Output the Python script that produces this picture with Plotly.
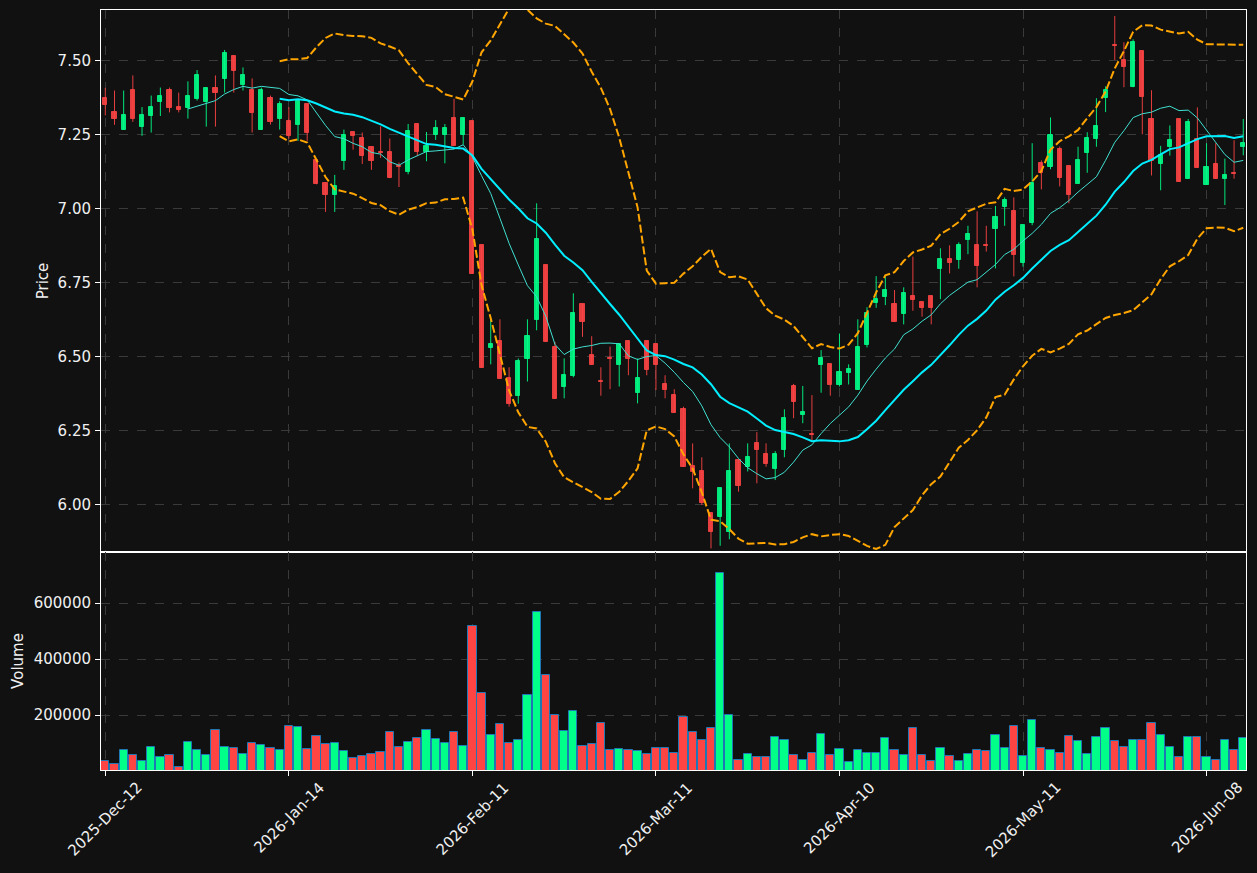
import plotly.graph_objects as go
import pandas as pd

opens = [7.372, 7.325, 7.265, 7.399, 7.275, 7.312, 7.360, 7.399, 7.342, 7.339,
         7.370, 7.360, 7.408, 7.438, 7.514, 7.416, 7.399, 7.265, 7.372, 7.302,
         7.294, 7.282, 7.352, 7.162, 7.084, 7.044, 7.160, 7.257, 7.236, 7.208,
         7.189, 7.189, 7.142, 7.122, 7.286, 7.190, 7.247, 7.247, 7.306, 7.247,
         7.295, 6.876, 6.529, 6.552, 6.427, 6.367, 6.492, 6.624, 6.809, 6.532,
         6.398, 6.435, 6.677, 6.503, 6.416, 6.493, 6.472, 6.552, 6.377, 6.552,
         6.543, 6.407, 6.369, 6.322, 6.130, 6.113, 5.970, 5.958, 5.908, 6.150,
         6.125, 6.207, 6.170, 6.120, 6.185, 6.400, 6.301, 6.236, 6.472, 6.474,
         6.403, 6.444, 6.387, 6.538, 6.681, 6.702, 6.677, 6.644, 6.704, 6.684,
         6.704, 6.796, 6.829, 6.827, 6.893, 6.875, 6.876, 6.931, 7.006, 6.991,
         6.815, 6.952, 7.153, 7.141, 7.200, 7.142, 7.083, 7.188, 7.235, 7.372,
         7.552, 7.500, 7.409, 7.532, 7.302, 7.149, 7.208, 7.302, 7.100, 7.234,
         7.080, 7.150, 7.100, 7.118, 7.208]
highs = [7.407, 7.398, 7.398, 7.449, 7.342, 7.381, 7.408, 7.408, 7.391, 7.429,
         7.467, 7.408, 7.449, 7.535, 7.514, 7.476, 7.439, 7.408, 7.381, 7.362,
         7.342, 7.362, 7.352, 7.162, 7.084, 7.113, 7.266, 7.257, 7.256, 7.208,
         7.277, 7.236, 7.155, 7.285, 7.286, 7.258, 7.298, 7.285, 7.370, 7.306,
         7.295, 6.876, 6.625, 6.625, 6.463, 6.493, 6.625, 7.017, 6.809, 6.549,
         6.493, 6.713, 6.677, 6.568, 6.463, 6.533, 6.543, 6.552, 6.493, 6.552,
         6.543, 6.436, 6.389, 6.330, 6.206, 6.159, 5.970, 6.055, 6.206, 6.150,
         6.206, 6.244, 6.206, 6.180, 6.321, 6.407, 6.400, 6.369, 6.521, 6.474,
         6.577, 6.473, 6.625, 6.666, 6.771, 6.770, 6.724, 6.733, 6.837, 6.684,
         6.704, 6.865, 6.875, 6.885, 6.941, 6.990, 6.941, 7.008, 7.037, 7.037,
         6.943, 7.220, 7.162, 7.307, 7.209, 7.142, 7.208, 7.257, 7.372, 7.412,
         7.650, 7.561, 7.571, 7.532, 7.399, 7.211, 7.280, 7.302, 7.302, 7.341,
         7.220, 7.220, 7.168, 7.230, 7.302]
lows = [7.314, 7.282, 7.265, 7.292, 7.245, 7.256, 7.312, 7.324, 7.324, 7.303,
        7.364, 7.276, 7.276, 7.391, 7.391, 7.398, 7.256, 7.265, 7.283, 7.266,
        7.235, 7.228, 7.228, 7.081, 6.988, 6.988, 7.130, 7.198, 7.150, 7.130,
        7.170, 7.102, 7.072, 7.115, 7.176, 7.159, 7.231, 7.152, 7.212, 7.215,
        6.779, 6.462, 6.473, 6.425, 6.330, 6.340, 6.415, 6.588, 6.550, 6.357,
        6.358, 6.429, 6.566, 6.472, 6.367, 6.389, 6.398, 6.436, 6.341, 6.436,
        6.386, 6.358, 6.310, 6.127, 6.054, 5.998, 5.851, 5.860, 5.882, 6.043,
        6.111, 6.071, 6.127, 6.082, 6.159, 6.291, 6.274, 6.217, 6.377, 6.367,
        6.398, 6.405, 6.387, 6.530, 6.664, 6.673, 6.617, 6.608, 6.654, 6.634,
        6.608, 6.693, 6.780, 6.796, 6.845, 6.733, 6.854, 6.797, 6.941, 6.770,
        6.803, 6.943, 7.064, 7.132, 7.074, 7.017, 7.083, 7.120, 7.208, 7.325,
        7.501, 7.409, 7.409, 7.250, 7.111, 7.061, 7.178, 7.090, 7.100, 7.137,
        7.080, 7.100, 7.011, 7.100, 7.179]
closes = [7.348, 7.302, 7.314, 7.302, 7.314, 7.342, 7.381, 7.339, 7.333, 7.381,
          7.449, 7.408, 7.390, 7.525, 7.465, 7.449, 7.322, 7.399, 7.292, 7.352,
          7.244, 7.362, 7.255, 7.081, 7.044, 7.074, 7.248, 7.244, 7.176, 7.160,
          7.187, 7.102, 7.140, 7.260, 7.189, 7.212, 7.270, 7.270, 7.212, 7.306,
          6.779, 6.462, 6.541, 6.425, 6.340, 6.484, 6.569, 6.896, 6.550, 6.357,
          6.436, 6.646, 6.617, 6.472, 6.414, 6.491, 6.543, 6.491, 6.427, 6.455,
          6.472, 6.386, 6.310, 6.127, 6.110, 6.005, 5.908, 6.055, 6.113, 6.063,
          6.159, 6.185, 6.136, 6.170, 6.291, 6.347, 6.312, 6.234, 6.494, 6.403,
          6.447, 6.457, 6.532, 6.646, 6.694, 6.724, 6.617, 6.714, 6.691, 6.664,
          6.664, 6.829, 6.816, 6.875, 6.913, 6.806, 6.874, 6.970, 7.028, 6.843,
          6.943, 7.086, 7.119, 7.248, 7.104, 7.046, 7.162, 7.238, 7.277, 7.400,
          7.550, 7.479, 7.561, 7.377, 7.159, 7.179, 7.230, 7.090, 7.292, 7.137,
          7.140, 7.100, 7.113, 7.116, 7.221]
volumes = [35700, 25000, 75000, 57000, 38000, 85700, 50000, 57000, 14300, 103600,
           75000, 57000, 146400, 85700, 82100, 60700, 100000, 92900, 82100, 75000,
           160700, 157100, 78600, 125000, 96400, 100000, 71400, 46400, 53600, 60700,
           67900, 139300, 85700, 103600, 117900, 146400, 114300, 100000, 139300, 89300,
           517900, 278600, 128600, 167800, 100000, 110700, 271400, 567800, 342800, 200000,
           142800, 214300, 89300, 96400, 171400, 75000, 78600, 75000, 71400, 60700,
           82100, 82100, 64300, 192800, 139300, 110700, 153600, 707100, 200000, 39300,
           60700, 50000, 50000, 121400, 110700, 57100, 39300, 64300, 132100, 57100,
           78600, 32100, 75000, 64300, 64300, 117900, 75000, 57100, 153600, 57100,
           35700, 82100, 53600, 35700, 60700, 75000, 71400, 128600, 82100, 160700,
           53600, 182100, 82100, 75000, 64300, 125000, 107100, 60700, 121400, 153600,
           107100, 85700, 110700, 110700, 171400, 128600, 85700, 50000, 121400, 121400,
           50000, 39300, 110700, 75000, 117900]
tick_labels = ["2025-Dec-12", "2026-Jan-14", "2026-Feb-11", "2026-Mar-11",
               "2026-Apr-10", "2026-May-11", "2026-Jun-08"]

n = len(closes)
xs = list(range(n))
tick_pos = list(range(0, n, 20))[:len(tick_labels)]

cs = pd.Series(closes)
ma10 = cs.rolling(10).mean()
ma20 = cs.rolling(20).mean()
sd20 = cs.rolling(20).std()
bb_up = ma20 + 2 * sd20
bb_lo = ma20 - 2 * sd20

UP = '#00ff88'
DOWN = '#ff4444'
is_up = [c >= o for o, c in zip(opens, closes)]
colors = [UP if u else DOWN for u in is_up]

fig = go.Figure()

# wicks
for flag, col in [(True, UP), (False, DOWN)]:
    wx, wy = [], []
    for i in range(n):
        if is_up[i] == flag:
            wx += [i, i, None]
            wy += [lows[i], highs[i], None]
    fig.add_trace(go.Scatter(x=wx, y=wy, mode='lines', line=dict(color=col, width=1),
                             opacity=0.9, xaxis='x', yaxis='y', hoverinfo='skip',
                             showlegend=False))

# bodies
fig.add_trace(go.Bar(x=xs, y=[abs(c - o) for o, c in zip(opens, closes)],
                     base=[min(o, c) for o, c in zip(opens, closes)],
                     width=0.45, marker=dict(color=colors, line=dict(color=colors, width=1)),
                     opacity=0.9, xaxis='x', yaxis='y', showlegend=False))

# moving averages and bands
fig.add_trace(go.Scatter(x=xs, y=ma10, mode='lines', line=dict(color='#40e0d0', width=1),
                         xaxis='x', yaxis='y', showlegend=False))
fig.add_trace(go.Scatter(x=xs, y=ma20, mode='lines', line=dict(color='#00eeff', width=2),
                         xaxis='x', yaxis='y', showlegend=False))
for band in (bb_up, bb_lo):
    fig.add_trace(go.Scatter(x=xs, y=band, mode='lines',
                             line=dict(color='#ffa500', width=2, dash='8px,3px'),
                             xaxis='x', yaxis='y', showlegend=False))

# volume
fig.add_trace(go.Bar(x=xs, y=volumes, width=0.9,
                     marker=dict(color=colors, line=dict(color='#1f77b4', width=1)),
                     xaxis='x2', yaxis='y2', showlegend=False))

BG = '#111111'
GRID = '#3a3a3a'
TXT = '#f0f0f0'
FS = 15
vol_frac = 218 / 760
xr = [-0.47, 124.3]

common_axis = dict(showgrid=True, gridcolor=GRID, griddash='dash', gridwidth=1,
                   showline=True, mirror=True, linecolor='white', linewidth=1,
                   zeroline=False, tickcolor='white', ticklen=5)

# rotated date labels centred under their ticks
annotations = [dict(x=p, y=0, xref='x2', yref='y2 domain', text=t, showarrow=False,
                    textangle=-45, xanchor='center', yanchor='top', yshift=-6,
                    font=dict(family='DejaVu Sans', size=FS, color=TXT))
               for p, t in zip(tick_pos, tick_labels)]

fig.update_layout(
    width=1257, height=873,
    margin=dict(l=101, r=11, t=10, b=103),
    paper_bgcolor=BG, plot_bgcolor=BG,
    font=dict(family='DejaVu Sans', size=FS, color=TXT),
    showlegend=False, barmode='overlay', bargap=0,
    annotations=annotations,
    xaxis=dict(domain=[0, 1], anchor='y', range=xr, matches='x2',
               tickvals=tick_pos, showticklabels=False, ticks='', **common_axis),
    yaxis=dict(domain=[vol_frac, 1], anchor='x', range=[5.839, 7.670],
               tick0=0, dtick=0.25, tickformat='.2f', ticks='outside',
               ticklabelstandoff=1, tickfont=dict(size=FS, color=TXT),
               title=dict(text='Price', standoff=5, font=dict(size=FS, color=TXT)),
               **common_axis),
    xaxis2=dict(domain=[0, 1], anchor='y2', range=xr,
                tickvals=tick_pos, showticklabels=False,
                ticks='outside', **common_axis),
    yaxis2=dict(domain=[0, vol_frac], anchor='x2', range=[4300, 783000],
                tickvals=[200000, 400000, 600000], tickformat='d', ticks='outside',
                ticklabelstandoff=1, tickfont=dict(size=FS, color=TXT),
                title=dict(text='Volume', standoff=6, font=dict(size=FS, color=TXT)),
                **common_axis),
)

fig.write_html("out.html")
